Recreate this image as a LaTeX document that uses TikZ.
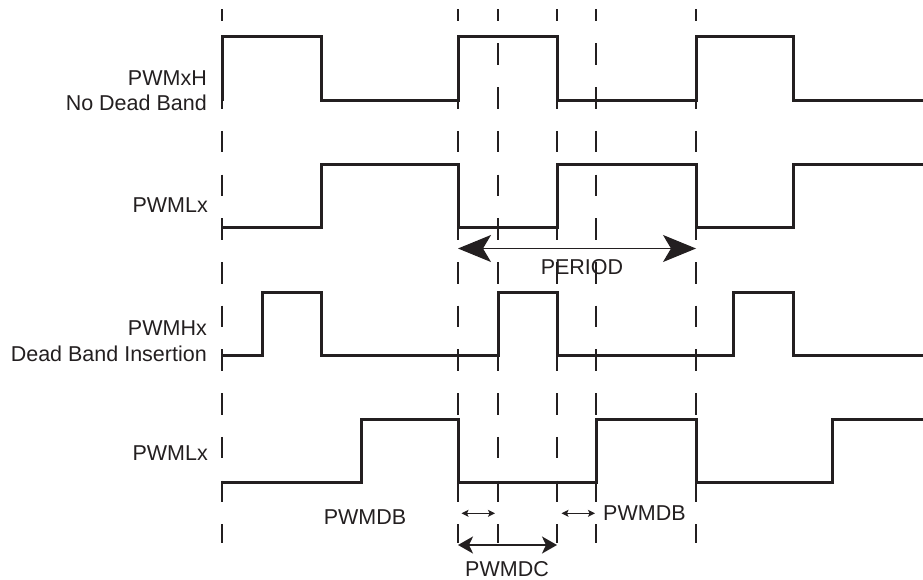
\documentclass[tikz,border=0pt]{standalone}
\usepackage{fontspec}
\setmainfont{Liberation Sans}
\usetikzlibrary{positioning,arrows.meta}
\definecolor{ink}{HTML}{231F20}
\tikzstyle{wave} = [line width=3pt, draw=ink, line join=miter]
\tikzstyle{guide} = [line width=1.3pt, draw=ink, dash pattern=on 21.5pt off 22.2pt, dash phase=9.5pt]
\tikzstyle{txt} = [font=\fontsize{21.5}{25.5}\selectfont, text=ink, inner sep=0pt]
\tikzstyle{sigtxt} = [txt, anchor=base east, align=right]
\tikzstyle{bigspan} = [line width=1.2pt, draw=ink, {Stealth[length=33pt,width=27pt,inset=8pt]}-{Stealth[length=33pt,width=27pt,inset=8pt]}]
\tikzstyle{dbspan} = [line width=1.1pt, draw=ink, {Stealth[length=7pt,width=7pt,inset=1.5pt]}-{Stealth[length=7pt,width=7pt,inset=1.5pt]}]
\tikzstyle{dcspan} = [line width=2pt, draw=ink, {Stealth[length=15pt,width=17pt,inset=4pt]}-{Stealth[length=15pt,width=17pt,inset=4pt]}]

\begin{document}
\begin{tikzpicture}[x=1pt, y=-1pt, node distance=8pt]
\useasboundingbox (0,0) rectangle (923,580);

\coordinate (t0top) at (222,9.3);
\coordinate (t0bot) at (222,543);
\coordinate (t1top) at (458,9.3);
\coordinate (t1bot) at (458,543);
\coordinate (t2top) at (498,9.3);
\coordinate (t2bot) at (498,543);
\coordinate (t3top) at (557,9.3);
\coordinate (t3bot) at (557,543);
\coordinate (t4top) at (596,9.3);
\coordinate (t4bot) at (596,543);
\coordinate (t5top) at (696,9.3);
\coordinate (t5bot) at (696,543);

\draw[guide] (t0top) -- (t0bot);
\draw[guide] (t1top) -- (t1bot);
\draw[guide] (t2top) -- (t2bot);
\draw[guide] (t3top) -- (t3bot);
\draw[guide] (t4top) -- (t4bot);
\draw[guide] (t5top) -- (t5bot);

\draw[wave] (222,101) -- (222,37) -- (321,37) -- (321,101) -- (458,101) -- (458,37) -- (557,37) -- (557,101) -- (696,101) -- (696,37) -- (793,37) -- (793,101) -- (923,101);
\draw[wave] (222,227) -- (321,227) -- (321,165) -- (458,165) -- (458,227) -- (557,227) -- (557,165) -- (696,165) -- (696,227) -- (793,227) -- (793,165) -- (923,165);
\draw[wave] (222,355) -- (262,355) -- (262,292) -- (321,292) -- (321,355) -- (498,355) -- (498,292) -- (557,292) -- (557,355) -- (733,355) -- (733,292) -- (793,292) -- (793,355) -- (923,355);
\draw[wave] (222,482) -- (361,482) -- (361,419) -- (458,419) -- (458,482) -- (596,482) -- (596,419) -- (696,419) -- (696,482) -- (832,482) -- (832,419) -- (923,419);

\node (hnodb) [sigtxt] at (207,110.7) {PWMxH\\No Dead Band};
\node (lnodb) [sigtxt] at (208,212.7) {PWMLx};
\node (hdb) [sigtxt] at (207,361.4) {PWMHx\\Dead Band Insertion};
\node (ldb) [sigtxt] at (208,460.2) {PWMLx};

\coordinate (perl) at (458,248.5);
\coordinate (perr) at (696,248.5);
\coordinate (db1l) at (461.5,513.3);
\coordinate (db1r) at (495,513.3);
\coordinate (db2l) at (561.5,513.3);
\coordinate (db2r) at (595,513.3);
\coordinate (dcl) at (458,545);
\coordinate (dcr) at (557,545);

\draw[bigspan] (perl) -- (perr);
\draw[dbspan] (db1l) -- (db1r);
\draw[dbspan] (db2l) -- (db2r);
\draw[dcspan] (dcl) -- (dcr);

\node (period) [txt, anchor=base] at (582,274.7) {PERIOD};
\node (dbleft) [txt, anchor=base] at (365,524.2) {PWMDB};
\node (dbright) [txt, anchor=west, right=8pt of db2r] {PWMDB};
\node (dc) [txt, anchor=base] at (507,576.2) {PWMDC};

\end{tikzpicture}
\end{document}
